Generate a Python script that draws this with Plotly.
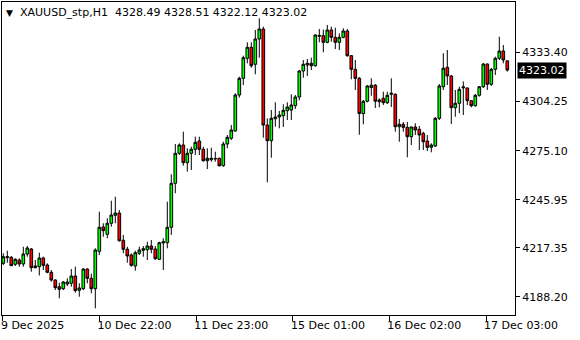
import plotly.graph_objects as go

# ---- data (XAUUSD_stp, H1) ----
opens = [4208.12,4211.45,4211.69,4207.53,4210.08,4207.71,4213.65,4216.62,4206.52,4206.10,
         4211.27,4207.11,4202.77,4198.19,4194.21,4193.02,4195.81,4196.23,4200.57,4192.07,
         4193.02,4204.73,4199.20,4193.02,4215.26,4229.71,4225.37,4231.91,4236.66,4238.03,
         4221.80,4216.45,4213.06,4206.52,4214.07,4215.85,4216.21,4218.41,4216.62,4210.50,
         4220.19,4220.37,4229.53,4255.69,4273.53,4278.46,4267.94,4273.53,4275.91,4280.84,
         4275.91,4269.13,4269.72,4270.14,4270.56,4266.16,4279.06,4282.45,4286.79,4308.19,
         4318.12,4330.01,4336.55,4326.44,4341.49,4347.44,4290.35,4281.02,4294.10,4295.11,
         4295.89,4298.86,4299.27,4301.83,4307.00,4322.46,4326.03,4327.04,4325.61,4343.10,
         4343.46,4339.53,4346.84,4342.50,4339.53,4342.50,4346.25,4331.56,4323.47,4318.12,
         4297.19,4304.45,4312.65,4314.02,4304.21,4306.23,4303.61,4308.61,4308.61,4289.34,
         4290.77,4288.98,4283.40,4289.17,4287.78,4285.40,4280.84,4277.10,4277.87,4294.34,
         4313.14,4324.67,4319.50,4300.64,4303.26,4312.39,4312.39,4304.80,4301.83,4308.01,
         4313.14,4326.62,4314.55,4323.47,4330.01,4334.35,4328.49]
highs = [4214.07,4215.61,4212.46,4211.10,4211.10,4218.00,4218.41,4217.22,4210.08,4214.42,
         4212.05,4208.12,4204.14,4198.61,4196.59,4197.60,4199.20,4204.73,4206.10,4196.23,
         4205.15,4205.15,4201.95,4217.04,4238.81,4231.91,4234.88,4245.34,4247.72,4239.81,
         4224.95,4218.00,4214.07,4215.61,4218.00,4218.41,4220.97,4221.98,4218.41,4220.97,
         4222.99,4244.75,4261.04,4279.06,4279.47,4286.37,4276.50,4277.45,4283.40,4283.40,
         4277.45,4276.50,4276.86,4274.48,4270.91,4280.42,4284.41,4290.36,4309.20,4319.07,
         4331.56,4339.52,4339.52,4346.84,4353.80,4348.81,4294.34,4299.27,4303.85,4298.68,
         4302.66,4303.85,4308.61,4308.19,4323.05,4329.00,4329.59,4330.37,4344.29,4347.44,
         4347.09,4349.81,4348.81,4348.21,4344.87,4347.86,4347.44,4331.98,4329.00,4318.89,
         4305.22,4314.14,4318.12,4314.73,4306.23,4310.16,4310.16,4318.12,4309.20,4293.92,
         4292.15,4292.15,4289.34,4291.37,4289.76,4286.37,4284.41,4279.47,4295.11,4314.73,
         4332.99,4334.95,4320.09,4311.17,4313.14,4316.27,4312.57,4305.22,4308.79,4313.55,
         4327.22,4326.90,4324.24,4330.96,4342.85,4337.92,4328.51]
lows = [4207.11,4208.48,4206.52,4206.52,4206.10,4206.10,4212.05,4203.13,4205.15,4200.90,
        4204.14,4202.17,4197.18,4192.24,4187.31,4192.24,4194.62,4194.21,4190.65,4188.26,
        4192.24,4196.23,4190.30,4181.37,4213.06,4223.94,4222.99,4229.89,4231.91,4220.97,
        4214.07,4208.48,4206.10,4203.72,4213.06,4212.05,4210.08,4214.07,4210.08,4210.08,
        4204.14,4217.04,4225.00,4249.74,4272.52,4266.16,4262.59,4263.60,4272.52,4272.52,
        4268.53,4264.19,4268.53,4268.53,4265.57,4265.57,4276.50,4281.44,4286.37,4306.59,
        4314.14,4327.04,4324.42,4320.50,4330.37,4282.80,4256.28,4270.91,4289.34,4288.39,
        4289.17,4293.33,4293.33,4299.87,4305.04,4318.47,4319.48,4323.05,4325.02,4339.53,
        4333.58,4338.94,4339.89,4335.54,4334.95,4341.91,4330.96,4317.53,4311.17,4284.59,
        4290.77,4303.85,4307.72,4300.46,4300.88,4302.25,4302.84,4301.06,4286.37,4280.42,
        4286.37,4271.15,4278.46,4284.41,4275.49,4275.49,4274.90,4274.12,4277.27,4293.33,
        4311.17,4314.14,4290.97,4295.29,4297.31,4296.30,4302.25,4300.88,4301.24,4307.18,
        4312.37,4311.17,4313.55,4320.09,4328.99,4327.04,4322.12]
closes = [4212.05,4212.05,4206.70,4210.50,4207.71,4213.65,4217.22,4205.51,4205.51,4211.27,
          4206.93,4202.77,4198.19,4193.61,4192.66,4197.00,4197.00,4200.57,4191.84,4193.44,
          4204.73,4199.20,4193.02,4216.03,4229.53,4227.51,4231.91,4236.84,4238.03,4221.56,
          4216.45,4212.46,4206.93,4214.42,4216.03,4216.80,4218.41,4216.45,4210.86,4220.37,
          4220.97,4229.53,4255.69,4273.53,4278.46,4267.94,4273.53,4275.91,4280.07,4275.91,
          4269.13,4270.56,4270.56,4270.44,4266.16,4279.06,4283.04,4287.38,4308.19,4318.12,
          4330.37,4336.55,4325.61,4341.49,4347.44,4290.35,4281.02,4294.34,4295.11,4296.30,
          4299.10,4301.06,4302.25,4307.00,4322.46,4326.44,4327.04,4325.61,4343.87,4343.58,
          4339.53,4346.84,4342.50,4339.53,4342.50,4346.25,4331.56,4323.47,4318.12,4297.19,
          4304.45,4313.55,4314.02,4304.51,4305.22,4303.61,4308.01,4309.20,4289.34,4290.77,
          4288.98,4283.40,4289.17,4287.38,4284.41,4280.42,4277.10,4278.46,4294.34,4313.55,
          4324.08,4319.50,4300.64,4303.26,4311.58,4312.98,4304.80,4301.83,4308.01,4313.14,
          4326.62,4314.55,4323.47,4330.01,4334.35,4329.00,4323.02]

price_ticks = [4188.20, 4217.35, 4245.95, 4275.10, 4304.25, 4333.40]
time_labels = ["9 Dec 2025", "10 Dec 22:00", "11 Dec 23:00", "15 Dec 01:00", "16 Dec 02:00", "17 Dec 03:00"]
time_label_bars = [-0.1, 24.08, 48.25, 72.42, 96.5, 120.7]

symbol = "XAUUSD_stp,H1"

bars = list(range(len(opens)))
last_price = closes[-1]

FONT = "DejaVu Sans"

fig = go.Figure()
fig.add_trace(go.Candlestick(
    x=bars, open=opens, high=highs, low=lows, close=closes,
    increasing=dict(line=dict(color="black", width=1), fillcolor="#00ff00"),
    decreasing=dict(line=dict(color="black", width=1), fillcolor="#ff0000"),
    whiskerwidth=0, hoverinfo="skip", showlegend=False,
))

fig.update_layout(
    width=580, height=340,
    margin=dict(l=2, r=65, t=2, b=25),
    paper_bgcolor="white", plot_bgcolor="white",
    boxgap=0.05,
    font=dict(family=FONT, size=11, color="black"),
    showlegend=False,
    xaxis=dict(
        range=[-0.325, 127.925], rangeslider=dict(visible=False),
        showgrid=False, zeroline=False,
        showline=True, linecolor="black", linewidth=1, mirror=True,
        ticks="outside", ticklen=5, tickcolor="black", tickwidth=1,
        tickvals=time_label_bars, ticktext=time_labels,
        ticklabelposition="outside right", ticklabelshift=-3,
        tickfont=dict(family=FONT, size=11, color="black"),
    ),
    yaxis=dict(
        range=[4177.38, 4363.49], side="right",
        showgrid=False, zeroline=False,
        showline=True, linecolor="black", linewidth=1, mirror=True,
        ticks="outside", ticklen=4, tickcolor="black", tickwidth=1,
        tickvals=price_ticks, ticktext=[f"{v:.2f}" for v in price_ticks],
        tickfont=dict(family=FONT, size=11, color="black"),
    ),
)

# header
fig.add_annotation(
    xref="paper", yref="paper", x=0, y=1, xanchor="left", yanchor="top",
    xshift=16, yshift=-2, showarrow=False,
    text=f"{symbol}  {opens[-1]:.2f} {highs[-1]:.2f} {lows[-1]:.2f} {closes[-1]:.2f}",
    font=dict(family=FONT, size=11, color="black"),
)
fig.add_annotation(
    xref="paper", yref="paper", x=0, y=1, xanchor="left", yanchor="top",
    xshift=2, yshift=-4, showarrow=False, text="▼",
    font=dict(family=FONT, size=9, color="black"),
)
# current price label
fig.add_annotation(
    xref="paper", yref="y", x=1, y=last_price, xanchor="left", yanchor="middle",
    xshift=2, showarrow=False, text=f"{last_price:.2f}",
    bgcolor="black", borderpad=1,
    font=dict(family=FONT, size=11, color="white"),
)

fig.write_html("out.html", config={"displayModeBar": False})
